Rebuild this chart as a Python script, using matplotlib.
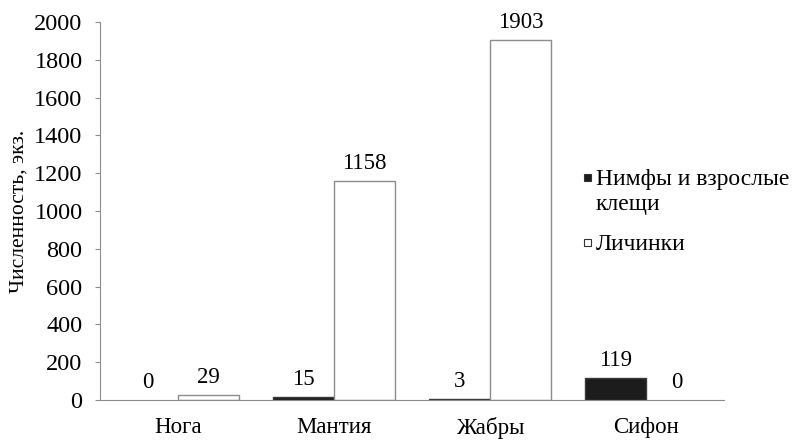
import numpy as np
import matplotlib
matplotlib.use('Agg')
import matplotlib.pyplot as plt
from matplotlib.patches import Rectangle

# Data
categories = ['Нога', 'Мантия', 'Жабры', 'Сифон']
nymphs_adults = [0, 15, 3, 119]
larvae = [29, 1158, 1903, 0]
series_labels = ['Нимфы и взрослые\nклещи', 'Личинки']
y_ticks = [0, 200, 400, 600, 800, 1000, 1200, 1400, 1600, 1800, 2000]

plt.rcParams['font.family'] = ['Liberation Serif', 'DejaVu Serif']

W, H = 795, 441
fig = plt.figure(figsize=(W / 100, H / 100), dpi=100)
ax = fig.add_axes([100 / W, 1 - 400 / H, 624 / W, 378 / H])

x = np.arange(len(categories))
w = 0.39
edge = '#8c8c8c'
b1 = ax.bar(x - w / 2, nymphs_adults, w, color='#1c1c1c', edgecolor='#3a3a3a', linewidth=1)
b2 = ax.bar(x + w / 2, larvae, w, color='white', edgecolor=edge, linewidth=1)

for bars, vals in ((b1, nymphs_adults), (b2, larvae)):
    for r, v in zip(bars, vals):
        if v == 0:
            r.set_linewidth(0)  # empty bars show nothing in the original
        ax.annotate(str(v), (r.get_x() + r.get_width() / 2, v),
                    xytext=(0, 5), textcoords='offset points',
                    ha='center', va='bottom', fontsize=16.5)

ax.set_xlim(-0.5, len(categories) - 0.5)
ax.set_ylim(0, 2000)
ax.set_yticks(y_ticks)
ax.set_xticks(x)
ax.set_xticklabels(categories, fontsize=16.5)
ax.tick_params(axis='y', labelsize=17.5, length=3.6, color=edge, pad=9)
ax.tick_params(axis='x', length=0, pad=12)
for s in ('top', 'right'):
    ax.spines[s].set_visible(False)
for s in ('left', 'bottom'):
    ax.spines[s].set_color(edge)
ax.set_ylabel('Численность, экз.', fontsize=15.5, labelpad=4)

# legend drawn by hand so the marker sits on the first line
fills = ['#1c1c1c', 'white']
first_baselines = [185, 250]
marker_centers = [177.5, 242.5]
for lab, fc, base, mc in zip(series_labels, fills, first_baselines, marker_centers):
    fig.patches.append(Rectangle((584 / W, 1 - (mc + 3.5) / H), 7 / W, 7 / H,
                                 transform=fig.transFigure, facecolor=fc,
                                 edgecolor='#333333', linewidth=0.8))
    for i, line in enumerate(lab.split('\n')):
        fig.text(596 / W, 1 - (base + 25 * i) / H, line, fontsize=17,
                 va='baseline', ha='left')

fig.savefig('out.png', dpi=100)
